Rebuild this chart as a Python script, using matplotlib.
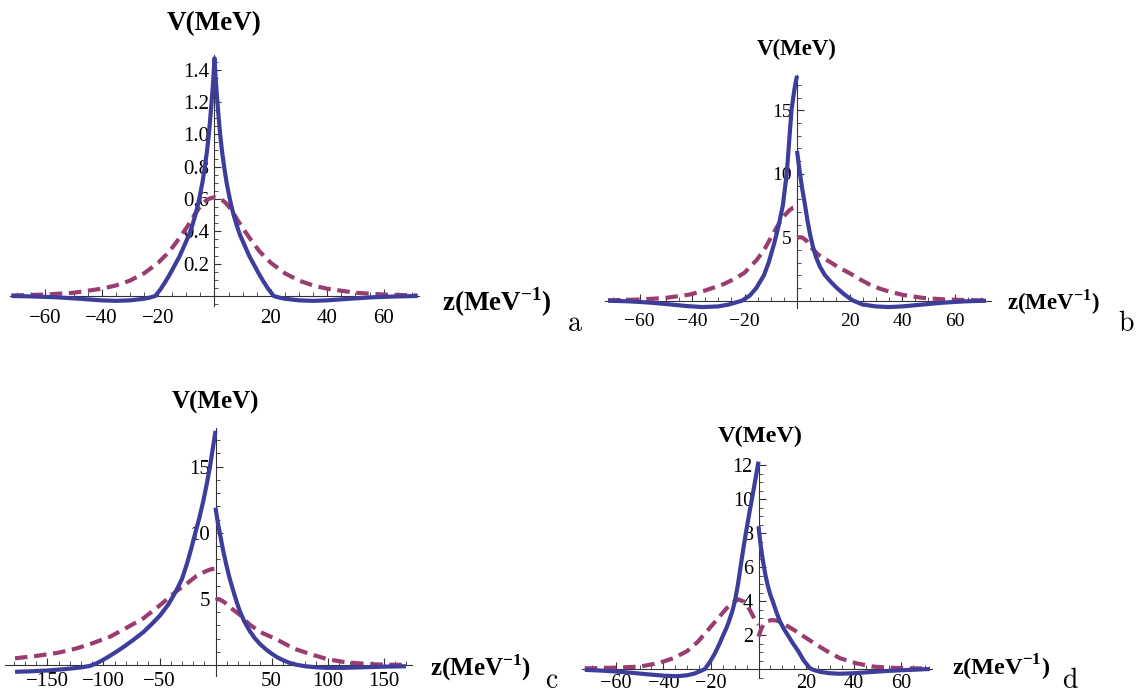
import matplotlib
matplotlib.use('Agg')
import matplotlib.pyplot as plt
from matplotlib.ticker import FixedLocator, MultipleLocator, FormatStrFormatter

plt.rcParams['font.family'] = ['Liberation Serif', 'DejaVu Serif']
plt.rcParams['mathtext.fontset'] = 'custom'
plt.rcParams['mathtext.rm'] = 'Liberation Serif'
plt.rcParams['mathtext.bf'] = 'Liberation Serif:bold'

BLUE = '#3d3d9c'
PURPLE = '#993d71'

# ---- panel a ----
za_solid = [-72, -64, -56, -48, -40, -35, -30, -25, -23, -21, -19, -17, -15.5, -13.8, -12.4,
            -11, -10, -9, -8, -6.8, -6, -5.2, -4.3, -3.5, -2.7, -2, -1.4, -0.8, -0.5, -0.2, 0,
            0.2, 0.5, 0.8, 1.4, 2, 2.7, 3.5, 4.3, 5.2, 6, 6.8, 8, 9, 10, 11, 12.4, 13.8, 15.5,
            17, 19, 21, 23, 25, 30, 35, 40, 48, 56, 64, 72]
va_solid = [0.0, -0.003, -0.008, -0.017, -0.027, -0.03, -0.027, -0.017, -0.01, 0.0, 0.045, 0.1,
            0.145, 0.2, 0.245, 0.3, 0.34, 0.38, 0.43, 0.5, 0.555, 0.62, 0.7, 0.79, 0.89, 1.0,
            1.12, 1.25, 1.32, 1.41, 1.47,
            1.41, 1.32, 1.25, 1.12, 1.0, 0.89, 0.79, 0.7, 0.62, 0.555, 0.5, 0.43, 0.38, 0.34,
            0.3, 0.245, 0.2, 0.145, 0.1, 0.045, 0.0, -0.01, -0.017, -0.027, -0.03, -0.027,
            -0.017, -0.008, -0.003, 0.0]
za_dash = [-72, -60, -50, -40, -35, -30, -25, -20, -16, -13, -10, -8, -7, -6, -5, -4, -3, -2,
           -1, 0, 1, 2, 3, 4, 5, 6, 7, 8, 10, 13, 16, 20, 25, 30, 35, 40, 50, 60, 72]
va_dash = [0.003, 0.009, 0.02, 0.045, 0.065, 0.095, 0.14, 0.205, 0.275, 0.345, 0.42, 0.475,
           0.505, 0.53, 0.555, 0.575, 0.59, 0.6, 0.607, 0.61, 0.607, 0.6, 0.59, 0.575, 0.555,
           0.53, 0.505, 0.475, 0.42, 0.345, 0.275, 0.205, 0.14, 0.095, 0.065, 0.045, 0.02,
           0.009, 0.003]

# ---- panel b ----
zb_solid_l = [-72, -64, -56, -48, -42, -36, -30, -26, -23.5, -21, -18, -15.5, -12.6, -10.8,
              -8.7, -6.9, -5.4, -3.9, -3, -2.1, -1.5, -1, -0.5, 0]
vb_solid_l = [0, -0.05, -0.15, -0.3, -0.42, -0.5, -0.45, -0.3, -0.15, 0, 0.4, 1.0, 2.0, 3.0,
              4.5, 6.0, 7.5, 10, 12.5, 15, 15.9, 16.6, 17.2, 17.7]
zb_solid_r = [0, 0.5, 1, 1.5, 2, 3, 4, 5, 6, 7.3, 8.7, 10.5, 12.8, 15.2, 18, 20, 21.5, 25, 30,
              35, 40, 48, 56, 64, 72]
vb_solid_r = [11.8, 11.0, 10.2, 9.5, 8.8, 7.6, 6.3, 5.2, 4.3, 3.4, 2.7, 2.05, 1.5, 1.0, 0.5,
              0.2, 0, -0.3, -0.45, -0.5, -0.45, -0.3, -0.15, -0.05, 0]
zb_dash_l = [-72, -60, -50, -41, -35, -28, -24, -20, -15.4, -12.5, -10, -7.1, -5, -3, -1.5, 0]
vb_dash_l = [0.03, 0.09, 0.22, 0.48, 0.8, 1.3, 1.7, 2.2, 3.2, 4.0, 4.95, 6.0, 6.65, 7.1, 7.32,
             7.4]
zb_dash_r = [0, 1, 2, 3.5, 5.6, 8, 10, 12.6, 16, 20.2, 24, 27.8, 31.5, 35.4, 40.5, 48, 56, 64, 72]
vb_dash_r = [4.95, 5.0, 4.97, 4.75, 4.15, 3.65, 3.35, 3.05, 2.6, 2.15, 1.68, 1.26, 0.95, 0.7,
             0.45, 0.22, 0.1, 0.05, 0.02]

# ---- panel c ----
zc_solid_l = [-179, -165, -150, -135, -120, -112, -106, -100, -94, -87, -80, -72, -64.4, -57,
              -49.6, -42, -35.5, -30, -25.7, -22, -18.3, -14.5, -10.9, -8, -4.9, -2, 0]
vc_solid_l = [-0.5, -0.46, -0.4, -0.3, -0.17, -0.05, 0.15, 0.42, 0.72, 1.1, 1.5, 2.0, 2.5, 3.1,
              3.75, 4.6, 5.55, 6.5, 7.6, 8.7, 9.9, 11.1, 12.4, 13.6, 15, 16.6, 17.7]
zc_solid_r = [0, 2, 4, 6.5, 9.6, 12.5, 15.9, 19, 21.9, 26, 30.8, 35, 39.7, 45, 50, 55, 60.5,
              66, 72, 80, 90, 100, 115, 130, 150, 170]
vc_solid_r = [11.9, 10.8, 9.9, 8.8, 7.6, 6.6, 5.6, 4.75, 4.05, 3.25, 2.55, 2.05, 1.6, 1.2, 0.88,
              0.6, 0.37, 0.18, 0.04, -0.08, -0.16, -0.2, -0.2, -0.16, -0.11, -0.08]
zc_dash_l = [-179, -160, -140, -124, -110, -94.2, -80, -64.4, -50, -35.5, -25, -16.8, -8, -4, 0]
vc_dash_l = [0.52, 0.7, 0.95, 1.27, 1.65, 2.15, 2.8, 3.54, 4.5, 5.55, 6.2, 6.75, 7.12, 7.25, 7.3]
zc_dash_r = [0, 3, 8, 14, 21.9, 24.8, 30, 40, 54.6, 70, 84.4, 100, 114, 130, 144, 170]
vc_dash_r = [4.92, 5.0, 4.75, 4.3, 3.8, 3.54, 3.1, 2.5, 1.95, 1.25, 0.85, 0.45, 0.25, 0.12,
             0.06, 0.02]

# ---- panel d ----
zd_solid_l = [-73, -65, -55, -46, -39, -34, -30, -27, -24.5, -22.5, -20.5, -18.6, -16.5, -14.8,
              -13.5, -12.3, -11, -9.9, -8.6, -7.5, -6.4, -5.25, -4, -2.9, -2, -1, 0]
vd_solid_l = [-0.05, -0.1, -0.2, -0.32, -0.4, -0.42, -0.37, -0.27, -0.13, 0, 0.4, 0.85, 1.45,
              2.0, 2.4, 2.85, 3.4, 4.0, 5.0, 6.05, 7.05, 8.05, 9.05, 9.9, 10.6, 11.4, 12.2]
zd_solid_r = [0, 0.5, 1, 1.6, 2.3, 3.1, 4, 5, 6.2, 7.5, 9, 10.7, 12.5, 14.5, 16.7, 19, 21.6,
              23, 26, 30, 34, 40, 48, 56, 64, 72]
vd_solid_r = [8.4, 7.75, 7.2, 6.6, 6.0, 5.4, 4.85, 4.35, 3.9, 3.35, 2.8, 2.35, 1.95, 1.5, 1.05,
              0.5, 0.05, -0.05, -0.17, -0.25, -0.28, -0.25, -0.17, -0.1, -0.05, 0]
zd_dash_l = [-73, -62, -49.8, -42, -35.8, -30, -25.5, -21.8, -17.5, -13.4, -11, -8.5, -6, -3.6,
             -1.7, 0]
vd_dash_l = [0.04, 0.07, 0.14, 0.35, 0.63, 1.05, 1.6, 2.2, 2.9, 3.57, 3.9, 4.1, 3.95, 3.47,
             2.95, 2.6]
zd_dash_r = [0, 1, 2, 3.5, 5.5, 7.5, 9, 12.5, 16, 20.3, 25.8, 30, 34.3, 41.3, 48.3, 56, 64, 72]
vd_dash_r = [1.9, 2.3, 2.6, 2.8, 2.88, 2.85, 2.78, 2.5, 2.2, 1.8, 1.3, 0.95, 0.63, 0.33, 0.14,
             0.07, 0.04, 0.03]

W, H = 1138, 696
fig = plt.figure(figsize=(W / 100, H / 100), dpi=100)


def make_axes(ox, oy, sx, sy, xlim, ylim):
    # place axes so that data origin lands on pixel (ox, oy)
    left = ox + xlim[0] * sx
    right = ox + xlim[1] * sx
    top = oy - ylim[1] * sy
    bottom = oy - ylim[0] * sy
    ax = fig.add_axes([left / W, 1 - bottom / H, (right - left) / W, (bottom - top) / H])
    ax.set_xlim(xlim)
    ax.set_ylim(ylim)
    ax.patch.set_visible(False)
    for s in ['top', 'right']:
        ax.spines[s].set_visible(False)
    for s in ['left', 'bottom']:
        ax.spines[s].set_position(('data', 0))
        ax.spines[s].set_linewidth(0.8)
        ax.spines[s].set_color('#333333')
    return ax


def ticks(ax, xmaj, xminor, ymaj, yminor, yfmt, fs, xpad=8.5):
    ax.xaxis.set_major_locator(FixedLocator(xmaj))
    ax.xaxis.set_minor_locator(MultipleLocator(xminor))
    ax.yaxis.set_major_locator(FixedLocator(ymaj))
    ax.yaxis.set_minor_locator(MultipleLocator(yminor))
    ax.yaxis.set_major_formatter(FormatStrFormatter(yfmt))
    ax.tick_params(which='major', direction='in', length=5, width=0.8, color='#333333',
                   labelsize=fs)
    ax.tick_params(which='minor', direction='in', length=3, width=0.6, color='#333333')
    ax.tick_params(axis='x', which='major', pad=xpad)
    ax.tick_params(axis='y', which='major', pad=4)


def curve(ax, z, v, dashed=False):
    if dashed:
        ax.plot(z, v, color=PURPLE, lw=3.0, dashes=(3.0, 1.6), dash_capstyle='butt',
                dash_joinstyle='round', zorder=3, clip_on=False)
    else:
        ax.plot(z, v, color=BLUE, lw=3.0, solid_capstyle='butt', solid_joinstyle='round',
                zorder=4, clip_on=False)


def ftext(x, y, s, **kw):
    fig.text(x / W, 1 - y / H, s, **kw)


ZLAB = r'z(MeV$^{\mathbf{-1}}$)'

# panel a
ax = make_axes(214.5, 296, 2.82, 161.7, (-72.5, 72.5), (-0.06, 1.49))
ticks(ax, [-60, -40, -20, 20, 40, 60], 5, [0.2, 0.4, 0.6, 0.8, 1.0, 1.2, 1.4], 0.05, '%.1f', 15,
      xpad=9.5)
curve(ax, za_dash, va_dash, True)
curve(ax, za_solid, va_solid)
ftext(214, 24, 'V(MeV)', fontsize=19.5, fontweight='bold', ha='center', va='center')
ftext(442, 311, ZLAB, fontsize=19.5, fontweight='bold', ha='left', va='baseline')
ftext(575, 331, r'$\mathrm{a}$', fontsize=20, ha='center', va='baseline', math_fontfamily='cm')

# panel b
ax = make_axes(797, 300.7, 2.625, 12.7, (-73, 74), (-0.6, 17.8))
ticks(ax, [-60, -40, -20, 20, 40, 60], 5, [5, 10, 15], 1, '%d', 14)
curve(ax, zb_dash_l, vb_dash_l, True)
curve(ax, zb_dash_r, vb_dash_r, True)
curve(ax, zb_solid_l, vb_solid_l)
curve(ax, zb_solid_r, vb_solid_r)
ftext(797, 49, 'V(MeV)', fontsize=16.5, fontweight='bold', ha='center', va='center')
ftext(1007, 310, ZLAB, fontsize=16.5, fontweight='bold', ha='left', va='baseline')
ftext(1126, 331, r'$\mathrm{b}$', fontsize=20, ha='center', va='baseline', math_fontfamily='cm')

# panel c
ax = make_axes(215.5, 665.2, 1.12, 13.24, (-188, 175), (-0.85, 17.9))
ticks(ax, [-150, -100, -50, 50, 100, 150], 10, [5, 10, 15], 1, '%d', 15, xpad=5)
curve(ax, zc_dash_l, vc_dash_l, True)
curve(ax, zc_dash_r, vc_dash_r, True)
curve(ax, zc_solid_l, vc_solid_l)
curve(ax, zc_solid_r, vc_solid_r)
ftext(215, 402, 'V(MeV)', fontsize=18, fontweight='bold', ha='center', va='center')
ftext(430, 676, ZLAB, fontsize=18, fontweight='bold', ha='left', va='baseline')
ftext(552, 688, r'$\mathrm{c}$', fontsize=20, ha='center', va='baseline', math_fontfamily='cm')

# panel d
ax = make_axes(758.5, 669, 2.38, 17.0, (-74, 73), (-0.5, 12.2))
ticks(ax, [-60, -40, -20, 20, 40, 60], 5, [2, 4, 6, 8, 10, 12], 0.5, '%d', 14.5, xpad=3.5)
curve(ax, zd_dash_l, vd_dash_l, True)
curve(ax, zd_dash_r, vd_dash_r, True)
curve(ax, zd_solid_l, vd_solid_l)
curve(ax, zd_solid_r, vd_solid_r)
ftext(760, 436, 'V(MeV)', fontsize=17.5, fontweight='bold', ha='center', va='center')
ftext(952, 676, ZLAB, fontsize=17.5, fontweight='bold', ha='left', va='baseline')
ftext(1070, 688, r'$\mathrm{d}$', fontsize=20, ha='center', va='baseline', math_fontfamily='cm')

fig.savefig('out.png', dpi=100)
